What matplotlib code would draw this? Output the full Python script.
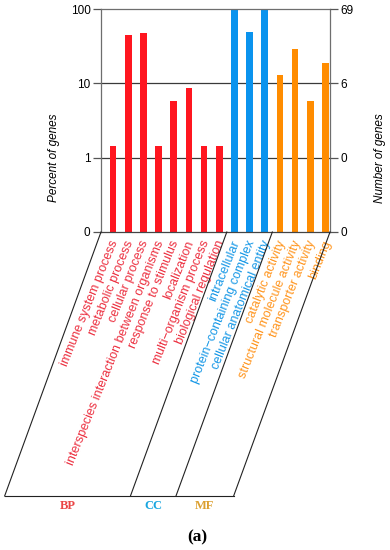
import matplotlib
matplotlib.use("Agg")
import matplotlib.pyplot as plt
from matplotlib.lines import Line2D
import numpy as np

# ---- data ----
categories = [
    "immune system process", "metabolic process", "cellular process",
    "interspecies interaction between organisms", "response to stimulus",
    "localization", "multi\u2212organism process", "biological regulation",
    "intracellular", "protein\u2212containing complex", "cellular anatomical entity",
    "catalytic activity", "structural molecule activity", "transporter activity",
    "binding",
]
groups = ["BP"] * 8 + ["CC"] * 3 + ["MF"] * 4
percent = [1.45, 44.9, 47.8, 1.45, 5.8, 8.7, 1.45, 1.45,
           100.0, 49.3, 100.0,
           13.0, 29.0, 5.8, 18.8]
left_ticks = [0.1, 1, 10, 100]
left_labels = ["0", "1", "10", "100"]
right_labels = ["0", "0", "6", "69"]
group_names = ["BP", "CC", "MF"]

bar_colors = {"BP": "#FF1620", "CC": "#0A93EE", "MF": "#FF8C00"}
text_colors = {"BP": "#EC3040", "CC": "#1597E6", "MF": "#FF951E"}
group_label_colors = {"BP": "#EA4545", "CC": "#18A6E0", "MF": "#DCA030"}

plt.rcParams['font.family'] = ['Liberation Sans', 'DejaVu Sans']

W, H = 390, 550
fig = plt.figure(figsize=(W / 100, H / 100), dpi=100)
ax_l, ax_r, ax_t, ax_b = 101, 330, 9, 232
ax = fig.add_axes([ax_l / W, 1 - ax_b / H, (ax_r - ax_l) / W, (ax_b - ax_t) / H])

x = np.arange(len(categories))
ax.bar(x, [p - 0.1 for p in percent], bottom=0.1, width=0.44,
       color=[bar_colors[g] for g in groups], zorder=2)
ax.set_yscale('log')
ax.set_ylim(0.1, 100)
ax.set_xlim(-0.79, 14.3)
ax.set_xticks([])
ax.set_yticks(left_ticks)
ax.set_yticklabels(left_labels, fontsize=8.5)
ax.yaxis.set_minor_locator(matplotlib.ticker.NullLocator())
ax.tick_params(axis='y', length=5.5, width=0.9, color='#555555', pad=2)
for v in [1, 10]:
    ax.axhline(v, color='#3a3a3a', lw=0.9, zorder=1)
for s in ['left', 'right', 'top', 'bottom']:
    ax.spines[s].set_color('#6e6e6e')
    ax.spines[s].set_linewidth(0.9)
ax.spines['bottom'].set_color('#444444')

ax2 = ax.twinx()
ax2.set_yscale('log')
ax2.set_ylim(0.1, 100)
ax2.set_yticks(left_ticks)
ax2.set_yticklabels(right_labels, fontsize=8.5)
ax2.yaxis.set_minor_locator(matplotlib.ticker.NullLocator())
ax2.tick_params(axis='y', length=5.5, width=0.9, color='#555555', pad=2)
for s in ['left', 'right', 'top', 'bottom']:
    ax2.spines[s].set_visible(False)

fig.text(54 / W, 1 - 158 / H, "Percent of genes", rotation=90, style='italic',
         fontsize=8.5, ha='center', va='center')
fig.text(380 / W, 1 - 158 / H, "Number of genes", rotation=90, style='italic',
         fontsize=8.5, ha='center', va='center')

# category labels
tr = ax.get_xaxis_transform()
for i, (c, g) in enumerate(zip(categories, groups)):
    ax.text(i + 0.15, -0.04, c, transform=tr, rotation=68, rotation_mode='anchor',
            ha='right', va='center', fontsize=9, color=text_colors[g], clip_on=False)

# slanted bracket lines
fig.canvas.draw()
def to_px(xd):
    px, py = ax.transData.transform((xd, 0.1))
    return px, H - py
bounds = [-0.79, 7.5, 10.5, 14.3]
dx, y_bot = -96, 496
ends = []
for b in bounds:
    px, py = to_px(b)
    ex = px + dx * (y_bot - py) / 263.0
    ends.append(ex)
    fig.add_artist(Line2D([px / W, ex / W], [1 - py / H, 1 - y_bot / H],
                          color='#222222', lw=0.8, transform=fig.transFigure))
fig.add_artist(Line2D([ends[0] / W, ends[-1] / W], [1 - y_bot / H, 1 - y_bot / H],
                      color='#222222', lw=0.8, transform=fig.transFigure))
for k, gname in enumerate(group_names):
    cx = (ends[k] + ends[k + 1]) / 2
    fig.text(cx / W, 1 - 506 / H, gname, family=['Liberation Serif', 'DejaVu Serif'],
             weight='bold', fontsize=9, color=group_label_colors[gname],
             ha='center', va='center')

fig.text(197 / W, 1 - 537 / H, "(a)", family=['Liberation Serif', 'DejaVu Serif'],
         fontsize=12.5, weight='bold', ha='center', va='center')

fig.savefig("out.png", dpi=100)
